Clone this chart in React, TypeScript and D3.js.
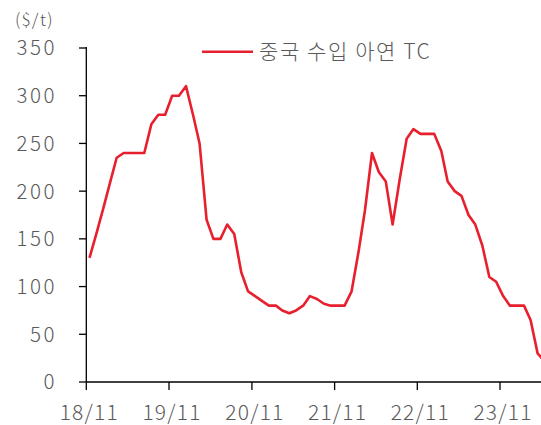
import React from "react";
import * as d3 from "d3";

const months: string[] = [
  "2018-11","2018-12","2019-01","2019-02","2019-03","2019-04","2019-05","2019-06","2019-07","2019-08",
  "2019-09","2019-10","2019-11","2019-12","2020-01","2020-02","2020-03","2020-04","2020-05","2020-06",
  "2020-07","2020-08","2020-09","2020-10","2020-11","2020-12","2021-01","2021-02","2021-03","2021-04",
  "2021-05","2021-06","2021-07","2021-08","2021-09","2021-10","2021-11","2021-12","2022-01","2022-02",
  "2022-03","2022-04","2022-05","2022-06","2022-07","2022-08","2022-09","2022-10","2022-11","2022-12",
  "2023-01","2023-02","2023-03","2023-04","2023-05","2023-06","2023-07","2023-08","2023-09","2023-10",
  "2023-11","2023-12","2024-01","2024-02","2024-03","2024-04","2024-05",
];
const tcValues: number[] = [
  130,155,182,210,235,240,240,240,240,270,
  280,280,300,300,310,280,250,170,150,150,
  165,155,115,95,90,85,80,80,75,72,
  75,80,90,87,82,80,80,80,95,137,
  180,240,220,210,165,212,255,265,260,260,
  260,242,210,200,195,175,165,143,110,105,
  90,80,80,80,65,30,22,
];
const seriesName = "중국 수입 아연 TC";
const unitLabel = "($/t)";
const yTicks: number[] = [0, 50, 100, 150, 200, 250, 300, 350];
const xTickLabels: string[] = ["18/11", "19/11", "20/11", "21/11", "22/11", "23/11"];

const W = 541;
const H = 425;
const FONT = "'Noto Sans CJK KR', 'Noto Sans', sans-serif";
const TEXT = "#595959";
const RED = "#e8202e";

export default function App() {
  const parse = d3.timeParse("%Y-%m-%d");
  const data = months.map((m, i) => ({ date: parse(m + "-15") as Date, value: tcValues[i] }));
  const tickDates = xTickLabels.map((l) => parse("20" + l.slice(0, 2) + "-" + l.slice(3) + "-01") as Date);

  const x = d3.scaleTime().domain([tickDates[0], tickDates[tickDates.length - 1]]).range([86.3, 500]);
  const y = d3.scaleLinear().domain([0, 350]).range([382, 48]);
  const line = d3.line<{ date: Date; value: number }>().x((d) => x(d.date)).y((d) => y(d.value));

  return (
    <svg width={W} height={H} style={{ position: "absolute", left: 0, top: 0, background: "#fff" }} fontFamily={FONT} fontWeight={300}>
      <defs>
        <clipPath id="plot">
          <rect x={86} y={0} width={W - 86} height={H} />
        </clipPath>
      </defs>
      <text x={15} y={26} fontSize={17} fill={TEXT} letterSpacing={1.2}>{unitLabel}</text>
      {yTicks.map((t) => (
        <g key={t}>
          <line x1={79} x2={86.3} y1={y(t)} y2={y(t)} stroke="#000" strokeWidth={1.3} />
          <text x={57} y={y(t)} dy="0.36em" textAnchor="end" fontSize={20.5} fill={TEXT} letterSpacing={2.5}>{t}</text>
        </g>
      ))}
      {tickDates.map((d, i) => (
        <g key={i}>
          <line x1={x(d)} x2={x(d)} y1={382} y2={390} stroke="#000" strokeWidth={1.3} />
          <text x={x(d) + 3} y={420} textAnchor="middle" fontSize={21} fill={TEXT} letterSpacing={1.2}>{xTickLabels[i]}</text>
        </g>
      ))}
      <line x1={86.3} x2={86.3} y1={47} y2={382} stroke="#000" strokeWidth={1.3} />
      <line x1={86.3} x2={W} y1={382} y2={382} stroke="#000" strokeWidth={1.3} />
      <path d={line(data) || ""} fill="none" stroke={RED} strokeWidth={2.6} strokeLinejoin="round" clipPath="url(#plot)" />
      <line x1={202} x2={253} y1={51.7} y2={51.7} stroke={RED} strokeWidth={2.6} />
      <text x={259} y={59} fontSize={21} fill={TEXT} letterSpacing={1.6}>{seriesName}</text>
    </svg>
  );
}
